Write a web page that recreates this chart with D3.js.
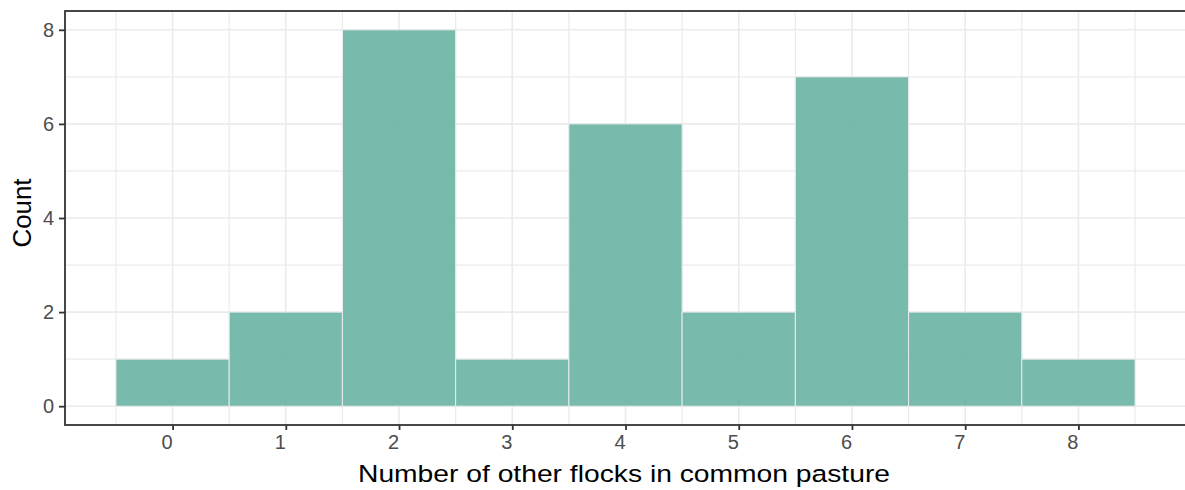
<!DOCTYPE html>
<html><head><meta charset="utf-8">
<script src="https://cdn.jsdelivr.net/npm/d3@7"></script>
<style>body{margin:0;background:#fff}svg{display:block}text{font-family:"Liberation Sans",Arial,sans-serif}</style>
</head><body>
<svg id="c" width="1185" height="490"></svg>
<script>
const categories = [0,1,2,3,4,5,6,7,8];
const counts = [1,2,8,1,6,2,7,2,1];
const yTicks = [0,2,4,6,8];
const xTicks = [0,1,2,3,4,5,6,7,8];
const xLabel = "Number of other flocks in common pasture";
const yLabel = "Count";

const W=1185,H=490;
const m={left:65,right:-1,top:11,bottom:65};
const svg=d3.select("#c");
const pw=W-m.left-m.right, ph=H-m.top-m.bottom;
const x=d3.scaleLinear().domain([-0.95,8.95]).range([m.left,m.left+pw]);
const y=d3.scaleLinear().domain([-0.4,8.4]).range([m.top+ph,m.top]);
const g=svg.append("g");
const xMinor=d3.range(-0.5,9,1), yMinor=[1,3,5,7];
g.selectAll(".vmin").data(xMinor).join("line").attr("x1",d=>x(d)).attr("x2",d=>x(d)).attr("y1",m.top).attr("y2",m.top+ph).attr("stroke","#ebebeb").attr("stroke-width",1.2);
g.selectAll(".hmin").data(yMinor).join("line").attr("y1",d=>y(d)).attr("y2",d=>y(d)).attr("x1",m.left).attr("x2",m.left+pw).attr("stroke","#ebebeb").attr("stroke-width",1.2);
g.selectAll(".vmaj").data(xTicks).join("line").attr("x1",d=>x(d)).attr("x2",d=>x(d)).attr("y1",m.top).attr("y2",m.top+ph).attr("stroke","#ebebeb").attr("stroke-width",1.6);
g.selectAll(".hmaj").data(yTicks).join("line").attr("y1",d=>y(d)).attr("y2",d=>y(d)).attr("x1",m.left).attr("x2",m.left+pw).attr("stroke","#ebebeb").attr("stroke-width",1.6);
svg.append("g").selectAll("rect").data(categories).join("rect")
 .attr("x",(d)=>x(d-0.5)).attr("width",d=>x(d+0.5)-x(d-0.5))
 .attr("y",(d,i)=>y(counts[i])).attr("height",(d,i)=>y(0)-y(counts[i]))
 .attr("fill","#69b3a2").attr("fill-opacity",0.9).attr("stroke","#e9ecef").attr("stroke-width",1);
svg.append("rect").attr("x",m.left).attr("y",m.top).attr("width",pw).attr("height",ph).attr("fill","none").attr("stroke","#333").attr("stroke-width",1.8);
const xa=svg.append("g").attr("transform",`translate(0,${m.top+ph})`).call(d3.axisBottom(x).tickValues(xTicks).tickSize(5).tickPadding(5).tickFormat(d3.format("d")));
const ya=svg.append("g").attr("transform",`translate(${m.left},0)`).call(d3.axisLeft(y).tickValues(yTicks).tickSize(6).tickPadding(5).tickFormat(d3.format("d")));
[xa,ya].forEach(a=>{a.attr("font-size",null).attr("font-family",null);a.select(".domain").remove();a.selectAll("line").attr("stroke","#333").attr("stroke-width",1.8);a.selectAll("text").attr("fill","#4d4d4d").style("font-size","20px");});
xa.selectAll("text").attr("dx","-6");
svg.append("text").attr("x",624).attr("y",482).attr("text-anchor","middle").style("font-size","24.5px").attr("textLength",532).attr("lengthAdjust","spacingAndGlyphs").attr("fill","#000").text(xLabel);
svg.append("text").attr("transform","translate(31,213) rotate(-90)").attr("text-anchor","middle").style("font-size","25px").attr("textLength",69).attr("lengthAdjust","spacingAndGlyphs").attr("fill","#000").text(yLabel);
</script>
</body></html>
